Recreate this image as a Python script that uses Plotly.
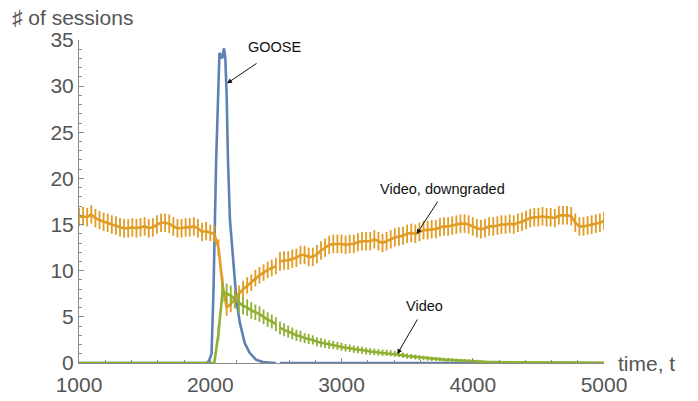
import plotly.graph_objects as go

# Sampling grid of the simulation runs (time, t)
T_START = 1000
T_STEP = 31.25
BREAK_AFTER = 2500  # two separate runs: the line is not joined across this point

# Mean number of sessions per class and the spread of the runs
video_downgraded = [
    15.8, 15.9, 15.8, 16.1, 15.7, 15.5, 15.3, 15.2, 15.0, 14.9,
    14.7, 14.6, 14.6, 14.7, 14.6, 14.7, 14.8, 14.6, 14.7, 15.0,
    15.2, 15.2, 15.1, 14.8, 14.6, 14.6, 14.7, 14.7, 14.8, 14.6,
    14.2, 14.3, 14.1, 14.0, 12.5, 8.5, 6.0, 6.4, 7.0, 7.5,
    8.0, 8.4, 8.7, 9.2, 9.5, 9.8, 10.1, 10.3, 10.5, 11.0,
    11.1, 11.1, 11.3, 11.4, 11.7, 11.7, 11.5, 11.5, 11.8, 12.2,
    12.5, 12.8, 12.9, 12.9, 12.9, 12.8, 12.9, 12.9, 13.1, 13.2,
    13.2, 13.2, 13.4, 13.2, 13.0, 13.2, 13.4, 13.6, 13.7, 13.8,
    14.0, 14.1, 14.0, 14.2, 14.4, 14.4, 14.5, 14.5, 14.7, 14.8,
    14.8, 14.9, 15.0, 15.1, 15.1, 15.0, 14.8, 14.6, 14.5, 14.6,
    14.8, 14.8, 14.9, 15.0, 15.0, 15.1, 15.0, 15.2, 15.3, 15.5,
    15.7, 15.8, 15.8, 15.9, 15.8, 15.8, 15.7, 16.0, 16.0, 16.0,
    15.9, 15.2, 14.8, 14.8, 14.9, 15.0, 15.1, 15.2, 15.4,
]
video_downgraded_err = [
    1.0, 1.0, 1.0, 1.0, 1.0, 1.0, 1.0, 1.0, 1.0, 1.0,
    1.0, 1.0, 1.0, 1.0, 1.0, 1.0, 1.0, 1.0, 1.0, 1.0,
    1.0, 1.0, 1.0, 1.0, 1.0, 1.0, 1.0, 1.0, 1.0, 1.0,
    1.0, 1.0, 0.9, 0.9, 0.9, 0.9, 0.9, 0.9, 0.9, 0.9,
    0.9, 0.9, 0.9, 0.9, 0.9, 0.9, 0.9, 0.9, 0.9, 1.0,
    1.0, 1.0, 1.0, 1.0, 1.0, 1.0, 1.0, 1.0, 1.0, 1.0,
    1.0, 1.0, 1.0, 1.0, 1.0, 1.0, 1.0, 1.0, 1.0, 1.0,
    1.0, 1.0, 1.0, 1.0, 1.0, 1.0, 1.0, 1.0, 1.0, 1.0,
    1.0, 1.0, 1.0, 1.0, 1.0, 1.0, 1.0, 1.0, 1.0, 1.0,
    1.0, 1.0, 1.0, 1.0, 1.0, 1.0, 1.0, 1.0, 1.0, 1.0,
    1.0, 1.0, 1.0, 1.0, 1.0, 1.0, 1.0, 1.0, 1.0, 1.0,
    1.0, 1.0, 1.0, 1.0, 1.0, 1.0, 1.0, 1.0, 1.0, 1.0,
    1.0, 1.0, 1.0, 1.0, 1.0, 1.0, 1.0, 1.0, 1.0,
]
video = [
    0, 0, 0, 0, 0, 0, 0, 0, 0, 0,
    0, 0, 0, 0, 0, 0, 0, 0, 0, 0,
    0, 0, 0, 0, 0, 0, 0, 0, 0, 0,
    0, 0, 0, 0, 3.2, 7.7, 7.5, 7.3, 6.9, 6.5,
    6.2, 6.0, 5.7, 5.5, 5.3, 5.0, 4.7, 4.5, 4.2, 3.8,
    3.6, 3.4, 3.2, 3.0, 2.9, 2.7, 2.6, 2.5, 2.3, 2.2,
    2.1, 2.0, 1.95, 1.85, 1.75, 1.65, 1.6, 1.5, 1.45, 1.4,
    1.3, 1.25, 1.2, 1.15, 1.1, 1.1, 1.05, 1.0, 0.95, 0.85,
    0.75, 0.7, 0.65, 0.6, 0.55, 0.5, 0.45, 0.42, 0.4, 0.37,
    0.35, 0.32, 0.3, 0.28, 0.27, 0.25, 0.24, 0.2, 0.12, 0.1,
    0.1, 0.1, 0.1, 0.1, 0.1, 0.1, 0.1, 0.1, 0.1, 0.1,
    0.1, 0.1, 0.1, 0.1, 0.1, 0.1, 0.1, 0.1, 0.1, 0.1,
    0.1, 0.1, 0.08, 0.06, 0.05, 0.04, 0.03, 0.02, 0.02,
]
video_err = [
    0, 0, 0, 0, 0, 0, 0, 0, 0, 0,
    0, 0, 0, 0, 0, 0, 0, 0, 0, 0,
    0, 0, 0, 0, 0, 0, 0, 0, 0, 0,
    0, 0, 0, 0, 0.8, 1.1, 1.1, 1.1, 1.0, 1.0,
    0.95, 0.9, 0.9, 0.85, 0.85, 0.8, 0.8, 0.75, 0.75, 0.7,
    0.7, 0.65, 0.65, 0.6, 0.6, 0.55, 0.55, 0.5, 0.5, 0.5,
    0.48, 0.46, 0.45, 0.44, 0.43, 0.42, 0.41, 0.4, 0.4, 0.39,
    0.38, 0.37, 0.36, 0.35, 0.35, 0.34, 0.33, 0.32, 0.31, 0.3,
    0.29, 0.28, 0.27, 0.26, 0.25, 0.24, 0.23, 0.22, 0.21, 0.2,
    0.2, 0.19, 0.18, 0.18, 0.17, 0.17, 0.16, 0.15, 0.14, 0.13,
    0.12, 0.12, 0.12, 0.12, 0.12, 0.12, 0.12, 0.12, 0.12, 0.12,
    0.12, 0.12, 0.12, 0.12, 0.12, 0.12, 0.12, 0.12, 0.12, 0.12,
    0.11, 0.1, 0.09, 0.08, 0.07, 0.06, 0.05, 0.05, 0.05,
]

# GOOSE sessions: a short burst right after t = 2000
goose_t = [1000, 1970, 1990, 2010, 2025, 2045, 2070, 2090, 2105, 2115,
           2125, 2135, 2150, 2175, 2200, 2225, 2262, 2300, 2350, 2400,
           2450, 2500, 2531.25, 5000]
goose = [0, 0, 0.2, 1.0, 8.0, 22.0, 33.6, 33.0, 34.1, 33.0,
         29.0, 22.0, 15.5, 10.8, 6.8, 4.4, 2.2, 1.1, 0.35, 0.1,
         0.02, 0, 0, 0]

x_ticks = [1000, 2000, 3000, 4000, 5000]
y_ticks = [0, 5, 10, 15, 20, 25, 30, 35]

BLUE = "#5E81B5"
ORANGE = "#E19C24"
GREEN = "#8FB032"
AXIS_GREY = "#8a8a8a"
TEXT_GREY = "#555555"

times = [T_START + T_STEP * k for k in range(len(video))]


def with_break(xs, ys, errs=None):
    """Insert an empty point after BREAK_AFTER so the two runs stay unjoined."""
    ox, oy, oe = [], [], []
    for i, (x, y) in enumerate(zip(xs, ys)):
        ox.append(x)
        oy.append(y)
        oe.append(errs[i] if errs is not None else 0)
        if x == BREAK_AFTER:
            ox.append(x + T_STEP / 2)
            oy.append(None)
            oe.append(None)
    return ox, oy, oe


fig = go.Figure()

gx, gy, _ = with_break(goose_t, goose)
fig.add_trace(go.Scatter(x=gx, y=gy, mode="lines", connectgaps=False,
                         line=dict(color=BLUE, width=2.6), name="GOOSE"))

ox, oy, oe = with_break(times, video_downgraded, video_downgraded_err)
fig.add_trace(go.Scatter(
    x=ox, y=oy, mode="lines", connectgaps=False,
    line=dict(color=ORANGE, width=2.6), name="Video, downgraded",
    error_y=dict(type="data", array=oe, visible=True, color=ORANGE,
                 thickness=1.8, width=0)))

vx, vy, ve = with_break(times, video, video_err)
fig.add_trace(go.Scatter(
    x=vx, y=vy, mode="lines", connectgaps=False,
    line=dict(color=GREEN, width=2.6), name="Video",
    error_y=dict(type="data", array=ve, visible=True, color=GREEN,
                 thickness=1.8, width=0)))

tick_font = dict(family="Liberation Sans, Arial, sans-serif", size=21, color=TEXT_GREY)

fig.update_xaxes(
    range=[1000, 5000], tickvals=x_ticks, showgrid=False, zeroline=False,
    showline=True, linecolor=AXIS_GREY, linewidth=1,
    ticks="inside", ticklen=5, tickcolor=AXIS_GREY, tickwidth=1,
    minor=dict(ticks="inside", ticklen=3, dtick=200, tickcolor=AXIS_GREY, showgrid=False),
    tickfont=tick_font, ticklabelstandoff=3, automargin=False,
)
fig.update_yaxes(
    range=[0, 35], tickvals=y_ticks, showgrid=False, zeroline=False,
    showline=True, linecolor=AXIS_GREY, linewidth=1,
    ticks="inside", ticklen=5, tickcolor=AXIS_GREY, tickwidth=1,
    minor=dict(ticks="inside", ticklen=3, dtick=1, tickcolor=AXIS_GREY, showgrid=False),
    tickfont=tick_font, automargin=False,
)

label_font = dict(family="Liberation Sans, Arial, sans-serif", size=14.5, color="#111111")
annotations = [
    # axis labels
    dict(text="♯ of sessions", xref="paper", yref="paper", x=-0.1314, y=1.0712,
         xanchor="left", yanchor="middle", showarrow=False,
         font=dict(family="Liberation Sans, Arial, sans-serif", size=21, color=TEXT_GREY)),
    dict(text="time, t", xref="paper", yref="paper", x=1.022, y=0.0,
         xanchor="left", yanchor="middle", showarrow=False,
         font=dict(family="Liberation Sans, Arial, sans-serif", size=21, color=TEXT_GREY)),
    # series labels
    dict(text="GOOSE", x=2493, y=34.2, showarrow=False, font=label_font),
    dict(text="Video, downgraded", x=3773, y=18.9, showarrow=False, font=label_font),
    dict(text="Video", x=3629, y=6.2, showarrow=False, font=label_font),
    # pointers
    dict(text="", x=2128, y=30.3, ax=31, ay=-21, showarrow=True,
         arrowhead=2, arrowsize=1, arrowwidth=1, arrowcolor="#111111"),
    dict(text="", x=3573, y=13.98, ax=22, ay=-34, showarrow=True,
         arrowhead=2, arrowsize=1, arrowwidth=1, arrowcolor="#111111"),
    dict(text="", x=3425, y=0.98, ax=21, ay=-36, showarrow=True,
         arrowhead=2, arrowsize=1, arrowwidth=1, arrowcolor="#111111"),
]

fig.update_layout(
    width=698, height=401,
    margin=dict(l=79, r=94, t=40, b=38),
    paper_bgcolor="white", plot_bgcolor="white",
    showlegend=False,
    annotations=annotations,
)

fig.write_html("out.html")
